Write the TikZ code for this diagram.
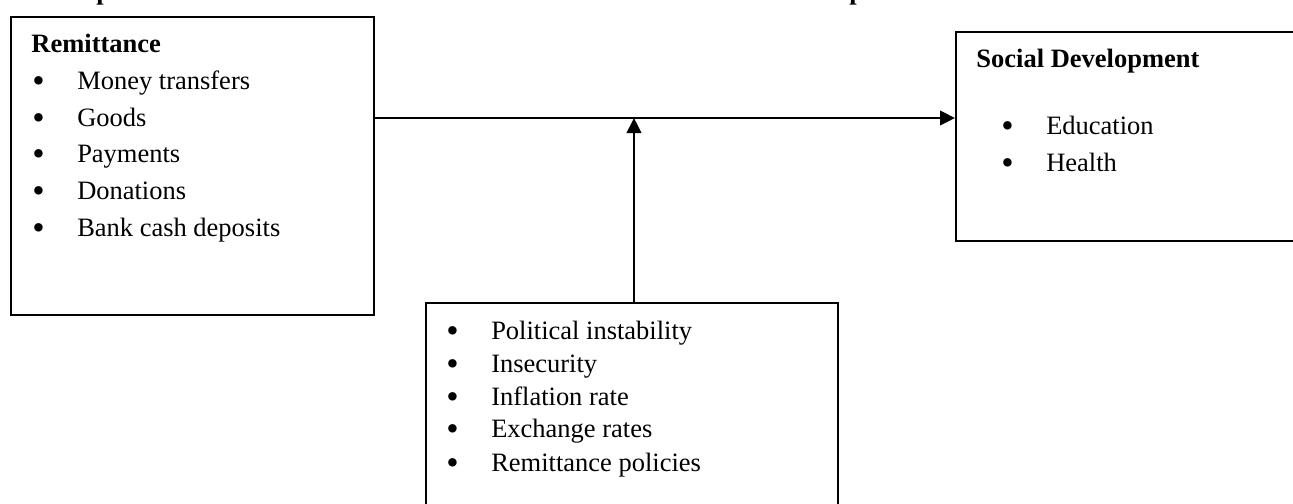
\documentclass[tikz,border=0pt]{standalone}
\usepackage{fontspec}
\setmainfont{Liberation Serif}
\usetikzlibrary{arrows.meta}

\newcommand{\itm}[1]{\makebox[20.3pt][l]{\raisebox{-1.4pt}{\fontsize{16}{16}\selectfont\textbullet}}#1}

\begin{document}
\begin{tikzpicture}[x=0.453pt, y=-0.453pt, font=\fontsize{12}{14}\selectfont,
  box/.style={draw, line width=0.8pt, inner sep=0pt, anchor=north west},
  txt/.style={anchor=base west, inner sep=0pt},
  conn/.style={line width=0.9pt, -{Triangle[length=6.8pt, width=6.6pt]}}]
  \useasboundingbox (0,0) rectangle (1293,503);
  \clip (0,0) rectangle (1293,503);

  % cut-off heading above the picture
  \node[txt, font=\fontsize{12}{14}\selectfont\bfseries] (h1) at (96,-0.5) {p};
  \node[txt, font=\fontsize{12}{14}\selectfont\bfseries] (h2) at (849,-0.5) {p};

  \node[box, minimum width=164.4pt, minimum height=135pt] (rem) at (10,16) {};
  \node[box, minimum width=170pt, minimum height=94.7pt] (soc) at (955,31) {};
  \node[box, minimum width=186.6pt, minimum height=110pt] (fac) at (425,302) {};

  \coordinate (j) at (634,118);
  \draw[conn] (rem.east |- j) -- (soc.west |- j);
  \draw[conn] (j |- fac.north) -- (j);

  \node[txt] (r0) at (31,52) {\textbf{Remittance}};
  \node[txt] (r1) at (32,89.5) {\itm{Money transfers}};
  \node[txt] (r2) at (32,126) {\itm{Goods}};
  \node[txt] (r3) at (32,162.5) {\itm{Payments}};
  \node[txt] (r4) at (32,199) {\itm{Donations}};
  \node[txt] (r5) at (32,236) {\itm{Bank cash deposits}};

  \node[txt] (s0) at (976,67) {\textbf{Social Development}};
  \node[txt] (s1) at (1001,134) {\itm{Education}};
  \node[txt] (s2) at (1001,171) {\itm{Health}};

  \node[txt] (f1) at (446,339) {\itm{Political instability}};
  \node[txt] (f2) at (446,372) {\itm{Insecurity}};
  \node[txt] (f3) at (446,405) {\itm{Inflation rate}};
  \node[txt] (f4) at (446,437) {\itm{Exchange rates}};
  \node[txt] (f5) at (446,471) {\itm{Remittance policies}};
\end{tikzpicture}
\end{document}
